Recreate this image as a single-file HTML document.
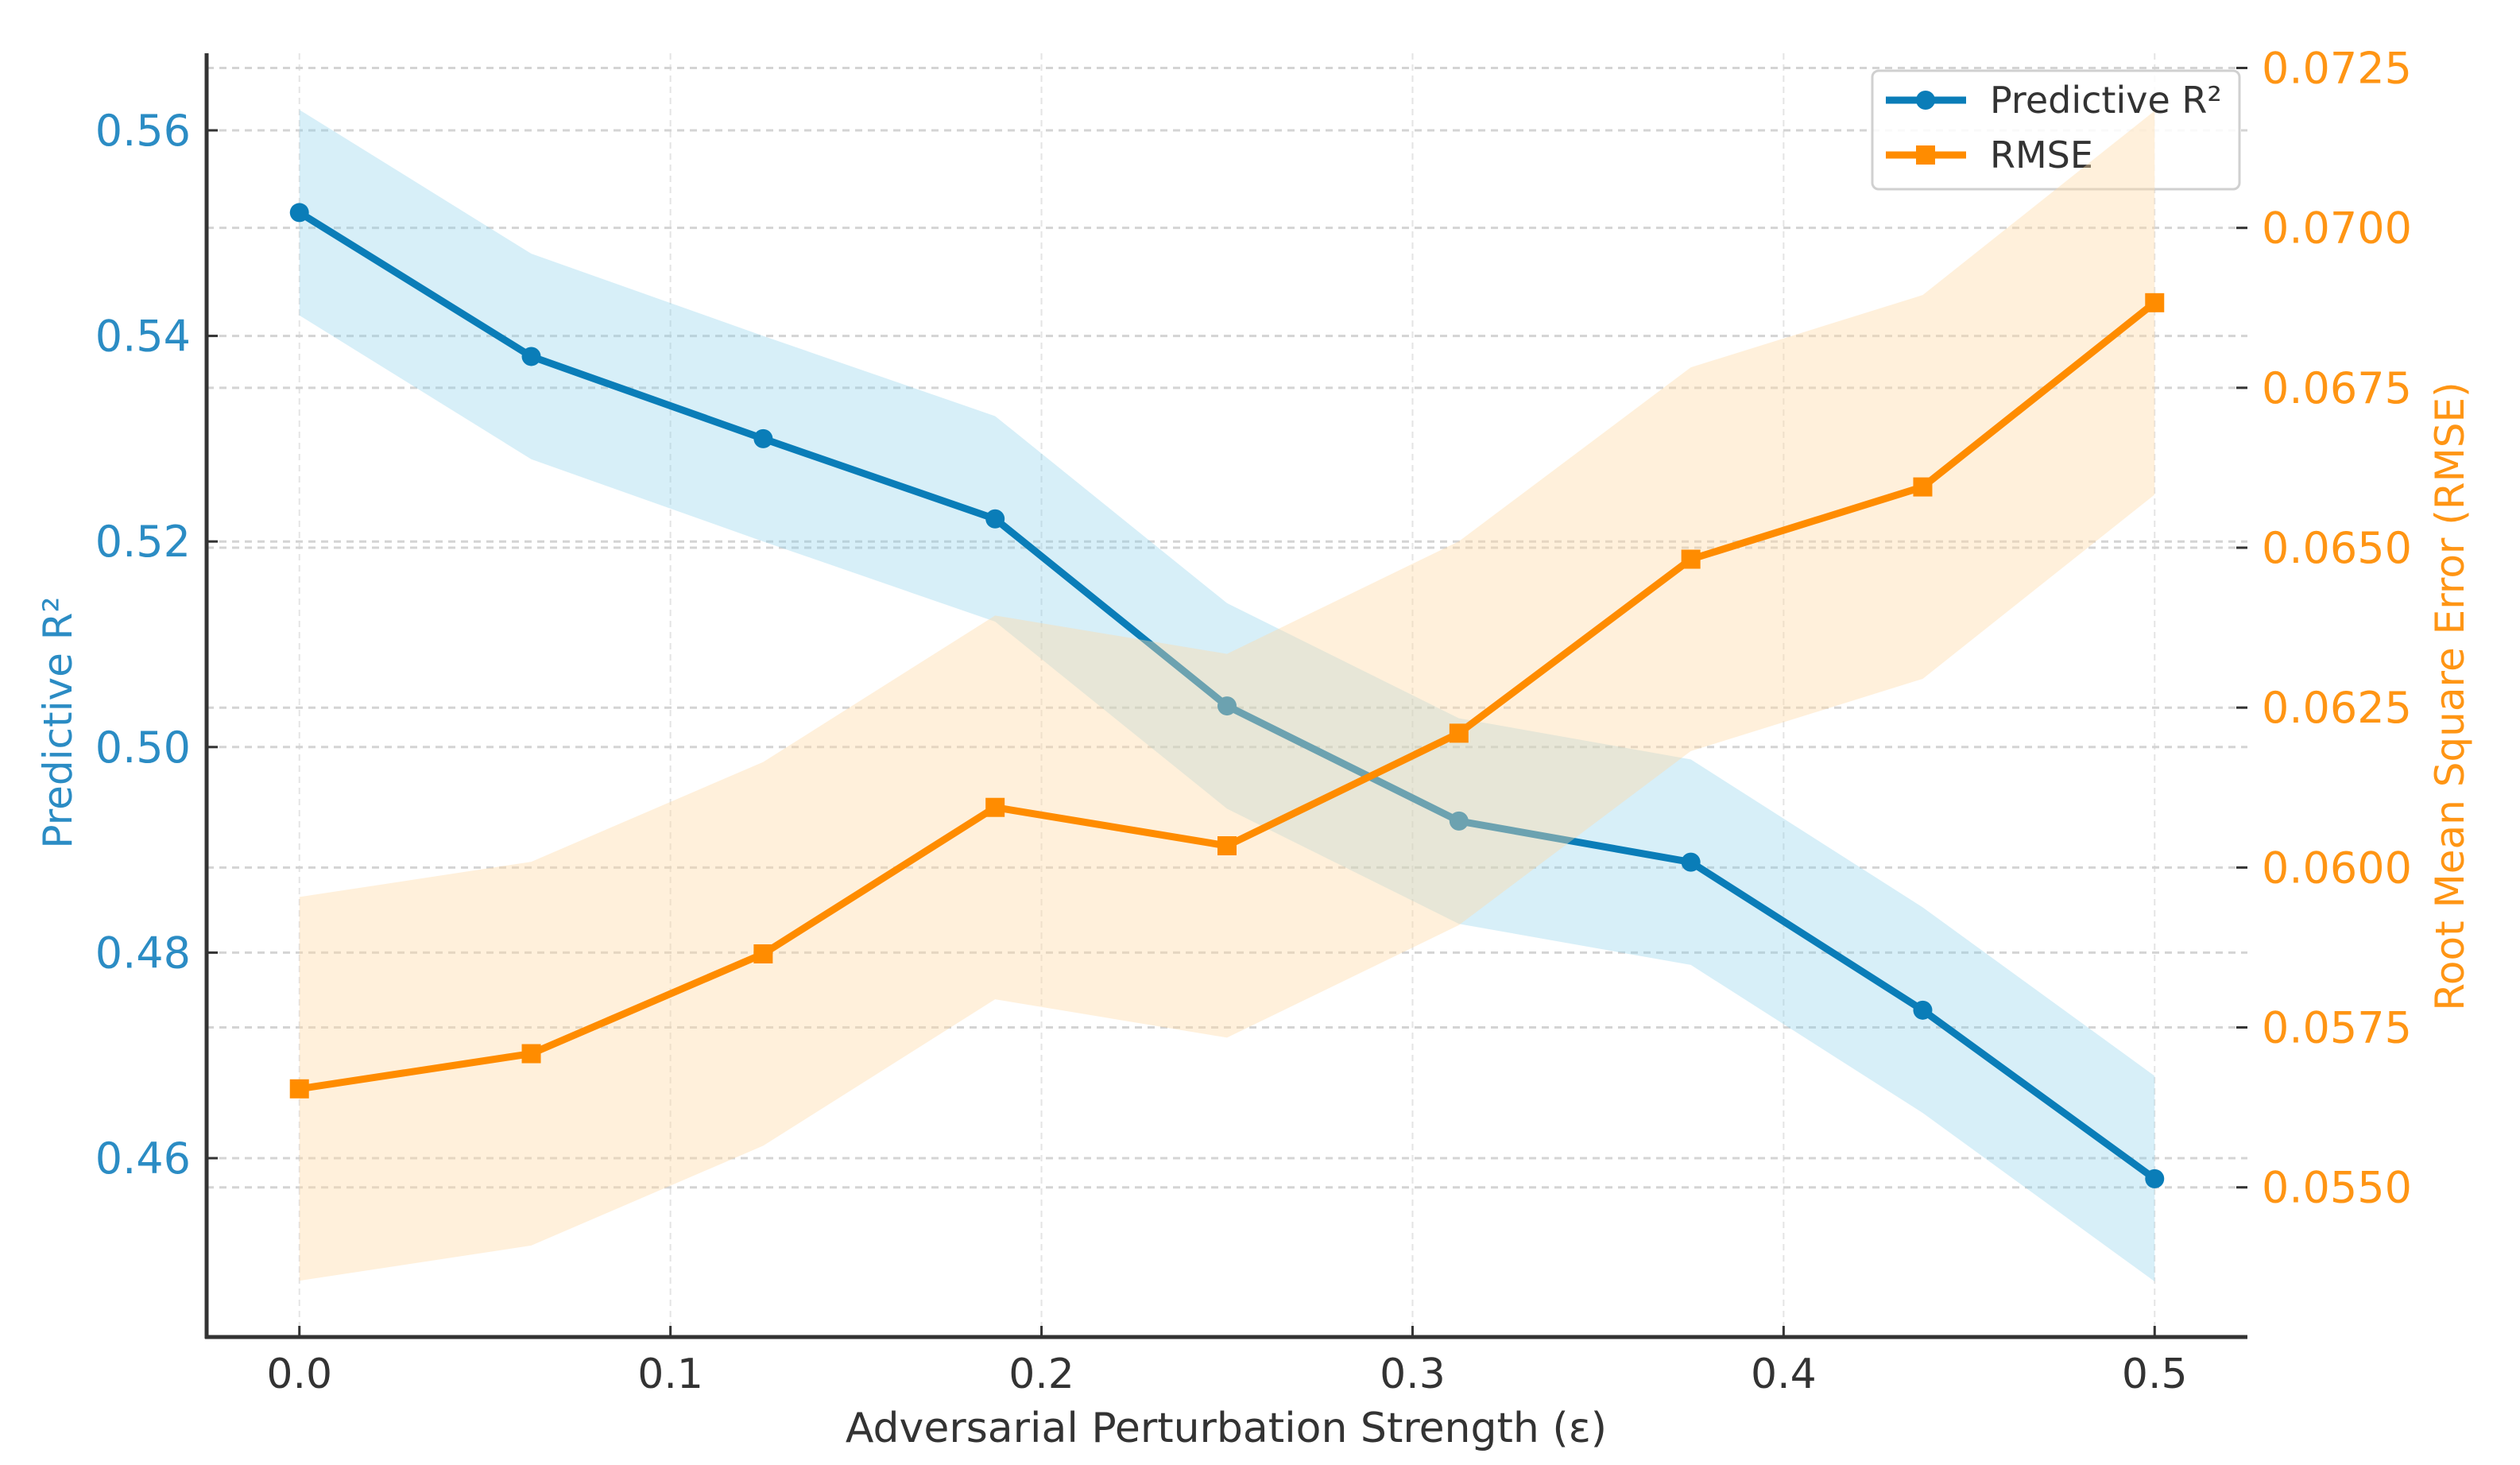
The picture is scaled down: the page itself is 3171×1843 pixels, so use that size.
<!DOCTYPE html>
<html><head><meta charset="utf-8"><style>
html,body{margin:0;padding:0;background:#fff;}
svg{display:block;font-family:"DejaVu Sans","Liberation Sans",sans-serif;}
</style></head><body>
<svg id="chart" width="3171" height="1843" viewBox="0 0 3171 1843" xmlns="http://www.w3.org/2000/svg">
<g id="grid"></g>
<g id="r2layer"></g>
<g id="legend">
  <rect x="2356" y="89" width="462" height="149" rx="8" fill="#fff" fill-opacity="0.85" stroke="#d0d0d0" stroke-width="3"/>
  <g>
    <line x1="2373" y1="126" x2="2474" y2="126" stroke="#0a7db8" stroke-width="9"/>
    <circle cx="2423" cy="126" r="12" fill="#0a7db8"/>
    <text x="2504" y="142" font-size="46" fill="#333">Predictive R²</text>
  </g>
  <g>
    <line x1="2373" y1="195" x2="2474" y2="195" stroke="#ff8c00" stroke-width="9"/>
    <rect x="2411" y="183" width="24" height="24" fill="#ff8c00"/>
    <text x="2504" y="211" font-size="46" fill="#333">RMSE</text>
  </g>
</g>
<g id="rmselayer"></g>
<g id="axes"></g>
</svg>
<script>
const eps = [0, 0.0625, 0.125, 0.1875, 0.25, 0.3125, 0.375, 0.4375, 0.5];
const r2 = [0.552, 0.538, 0.530, 0.5222, 0.504, 0.4928, 0.4888, 0.4744, 0.458];
const r2Err = [0.01, 0.01, 0.01, 0.01, 0.01, 0.01, 0.01, 0.01, 0.01];
const rmse = [0.05654, 0.05709, 0.05865, 0.06094, 0.06034, 0.06210, 0.06482, 0.06595, 0.06883];
const rmseErr = [0.003, 0.003, 0.003, 0.003, 0.003, 0.003, 0.003, 0.003, 0.003];
const xTicks = [0, 0.1, 0.2, 0.3, 0.4, 0.5];
const xTickLabels = ["0.0", "0.1", "0.2", "0.3", "0.4", "0.5"];
const leftTicks = [0.46, 0.48, 0.50, 0.52, 0.54, 0.56];
const leftTickLabels = ["0.46", "0.48", "0.50", "0.52", "0.54", "0.56"];
const rightTicks = [0.055, 0.0575, 0.06, 0.0625, 0.065, 0.0675, 0.07, 0.0725];
const rightTickLabels = ["0.0550", "0.0575", "0.0600", "0.0625", "0.0650", "0.0675", "0.0700", "0.0725"];

const L = 260, R = 2828, T = 67, B = 1682;
const X0 = -0.025, X1 = 0.525;
const Y0 = 0.4426, Y1 = 0.5675;
const Z0 = 0.05266, Z1 = 0.07273;
const sx = v => L + (v - X0) / (X1 - X0) * (R - L);
const sy = v => B - (v - Y0) / (Y1 - Y0) * (B - T);
const sz = v => B - (v - Z0) / (Z1 - Z0) * (B - T);
const NS = "http://www.w3.org/2000/svg";
function mk(tag, attrs, parent) {
  const e = document.createElementNS(NS, tag);
  for (const k in attrs) e.setAttribute(k, attrs[k]);
  parent.appendChild(e);
  return e;
}
const grid = document.getElementById('grid');
const axes = document.getElementById('axes');
const r2g = document.getElementById('r2layer');
const rmg = document.getElementById('rmselayer');

xTicks.forEach(v => {
  const g = mk('line', {x1: sx(v), x2: sx(v), y1: T, y2: B, stroke: '#e4e4e4', 'stroke-width': 2, 'stroke-dasharray': '8 6'}, grid);
  
  
});
leftTicks.forEach(v => {
  const g = mk('line', {x1: L, x2: R, y1: sy(v), y2: sy(v), stroke: '#d4d4d4', 'stroke-width': 3, 'stroke-dasharray': '9 7'}, grid);
  
  
});
rightTicks.forEach(v => {
  const g = mk('line', {x1: L, x2: R, y1: sz(v), y2: sz(v), stroke: '#d4d4d4', 'stroke-width': 3, 'stroke-dasharray': '9 7'}, grid);
  
  
});

function band(vals, errs, scale, fill, op, parent, name) {
  let d = '';
  vals.forEach((v, i) => { d += (i ? 'L' : 'M') + sx(eps[i]) + ',' + scale(v + errs[i]); });
  for (let i = vals.length - 1; i >= 0; i--) d += 'L' + sx(eps[i]) + ',' + scale(vals[i] - errs[i]);
  const p = mk('path', {d: d + 'Z', fill: fill, 'fill-opacity': op}, parent);
  
  
}
function line(vals, scale, color, parent, name) {
  const pts = vals.map((v, i) => sx(eps[i]) + ',' + scale(v)).join(' ');
  const p = mk('polyline', {points: pts, fill: 'none', stroke: color, 'stroke-width': 9, 'stroke-linejoin': 'round'}, parent);
  
  
}
band(r2, r2Err, sy, '#87ceeb', 0.33, r2g, 'r2-band');
line(r2, sy, '#0a7db8', r2g, 'r2-line');
r2.forEach((v, i) => {
  const c = mk('circle', {cx: sx(eps[i]), cy: sy(v), r: 12, fill: '#0a7db8'}, r2g);
  
  
});
band(rmse, rmseErr, sz, '#ffd9a6', 0.4, rmg, 'rmse-band');
line(rmse, sz, '#ff8c00', rmg, 'rmse-line');
rmse.forEach((v, i) => {
  const c = mk('rect', {x: sx(eps[i]) - 12, y: sz(v) - 12, width: 24, height: 24, fill: '#ff8c00'}, rmg);
  
  
});

let s = mk('line', {x1: L, x2: L, y1: T, y2: B + 2, stroke: '#333', 'stroke-width': 5}, axes);


s = mk('line', {x1: L - 2, x2: R, y1: B, y2: B, stroke: '#333', 'stroke-width': 5}, axes);



xTicks.forEach((v, i) => {
  const t = mk('line', {x1: sx(v), x2: sx(v), y1: B, y2: B - 14, stroke: '#333', 'stroke-width': 3}, axes);
  
  
  const tx = mk('text', {x: sx(v), y: B + 64, 'font-size': 52, fill: '#333', 'text-anchor': 'middle'}, axes);
  tx.textContent = xTickLabels[i];
  
  
});
leftTicks.forEach((v, i) => {
  const t = mk('line', {x1: L, x2: L + 14, y1: sy(v), y2: sy(v), stroke: '#333', 'stroke-width': 3}, axes);
  
  
  const tx = mk('text', {x: L - 20, y: sy(v) + 19, 'font-size': 54, fill: '#2b8cc4', 'text-anchor': 'end'}, axes);
  tx.textContent = leftTickLabels[i];
  
  
});
rightTicks.forEach((v, i) => {
  const t = mk('line', {x1: R - 14, x2: R, y1: sz(v), y2: sz(v), stroke: '#333', 'stroke-width': 3}, axes);
  
  
  const tx = mk('text', {x: R + 18, y: sz(v) + 19, 'font-size': 54, fill: '#ff9514', 'text-anchor': 'start'}, axes);
  tx.textContent = rightTickLabels[i];
  
  
});
let lab = mk('text', {x: 1543, y: 1814, 'font-size': 52, fill: '#333', 'text-anchor': 'middle'}, axes);
lab.textContent = 'Adversarial Perturbation Strength (ε)';


lab = mk('text', {x: 0, y: 0, 'font-size': 50, fill: '#2b8cc4', 'text-anchor': 'middle', transform: 'translate(90,909) rotate(-90)'}, axes);
lab.textContent = 'Predictive R²';


lab = mk('text', {x: 0, y: 0, 'font-size': 50, fill: '#ff9514', 'text-anchor': 'middle', transform: 'translate(3100,876) rotate(-90)'}, axes);
lab.textContent = 'Root Mean Square Error (RMSE)';


</script>
</body></html>
